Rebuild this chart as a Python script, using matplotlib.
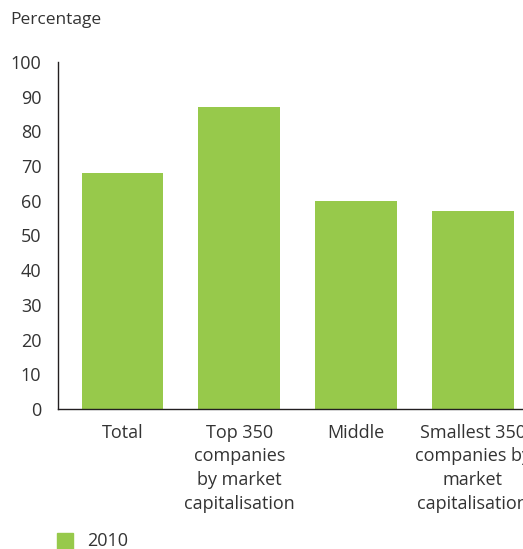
import matplotlib
matplotlib.use("Agg")
import matplotlib.pyplot as plt
from matplotlib.patches import Rectangle

categories = ["Total",
              "Top 350\ncompanies\nby market\ncapitalisation",
              "Middle",
              "Smallest 350\ncompanies by\nmarket\ncapitalisation"]
values_2010 = [68, 87, 60, 57]
yticks = [0, 10, 20, 30, 40, 50, 60, 70, 80, 90, 100]
series_name = "2010"

GREEN = "#97c94b"
TEXT = "#333333"

plt.rcParams["font.family"] = ["Open Sans", "DejaVu Sans"]

W, H = 523, 549
fig = plt.figure(figsize=(W / 100, H / 100), dpi=100)
ax = fig.add_axes([58 / W, 140 / H, (W - 58) / W, 347 / H])

x = list(range(len(categories)))
ax.bar(x, values_2010, width=0.7, color=GREEN, edgecolor="none")

ax.set_ylim(0, 100)
ax.set_xlim(-0.553, 3.43)
ax.set_yticks(yticks)
ax.set_yticklabels([str(t) for t in yticks])
ax.set_xticks(x)
ax.set_xticklabels(categories, linespacing=1.42)

for s in ["top", "right"]:
    ax.spines[s].set_visible(False)
for s in ["left", "bottom"]:
    ax.spines[s].set_color("#231f20")
    ax.spines[s].set_linewidth(1.0)

ax.tick_params(axis="y", length=0, pad=12, labelsize=13, labelcolor=TEXT)
ax.tick_params(axis="x", length=0, pad=10.5, labelsize=13, labelcolor=TEXT)

fig.text(10 / W, 1 - 20 / H, "Percentage", fontsize=12.5, color=TEXT,
         ha="left", va="center")

# legend swatch and label
fig.patches.append(Rectangle((57 / W, 0), 16 / W, 16 / H,
                             transform=fig.transFigure, color=GREEN))
fig.text(87 / W, 8 / H, series_name, fontsize=13, color=TEXT,
         ha="left", va="center")

fig.savefig("out.png", dpi=100)
